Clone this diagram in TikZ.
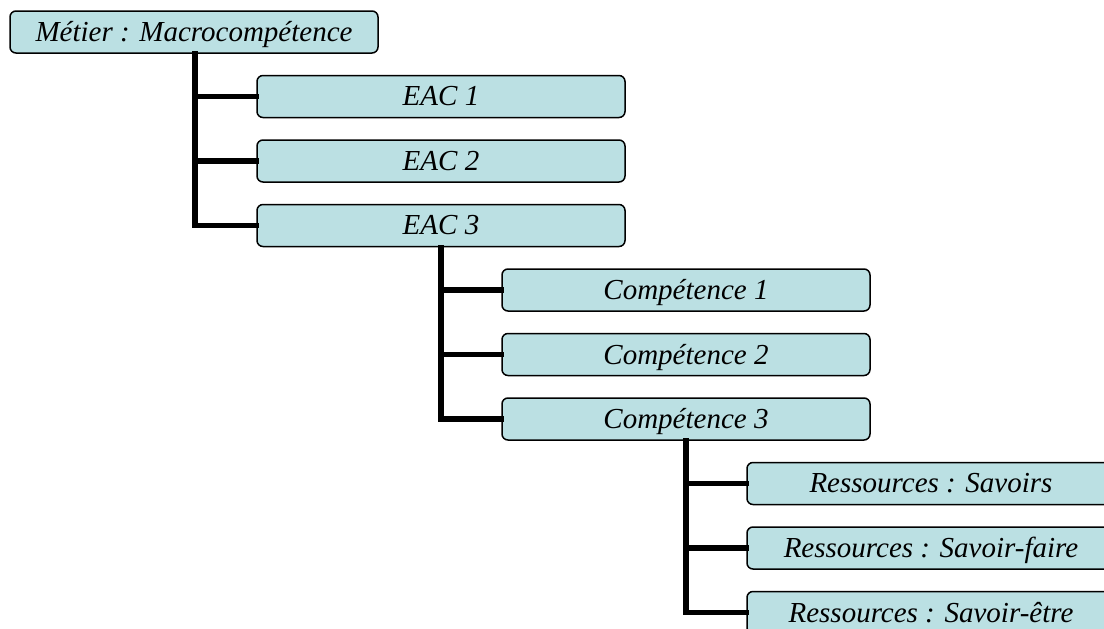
\documentclass[tikz,border=0pt]{standalone}
\usepackage{fontspec}
\setmainfont{Liberation Serif}
\usetikzlibrary{positioning}

\newlength{\du}
\setlength{\du}{1pt}
\definecolor{boxcolor}{rgb}{0.733333, 0.878431, 0.890196}

\tikzset{
  itembox/.style={draw=black, fill=boxcolor, line width=1.5\du,
    rounded corners=6\du, minimum width=368\du, minimum height=42\du,
    inner sep=0pt, text depth=1\du,
    font=\fontsize{29}{33}\selectfont\itshape},
  treeline/.style={line width=5.5\du, line join=miter, line cap=rect}
}

\begin{document}
\begin{tikzpicture}
\clip (0\du,0\du) rectangle (1104\du,-629\du);
\fill[white] (0\du,0\du) rectangle (1104\du,-629\du);
% level 0
\node[itembox] (metier) at (194\du,-32\du) {Métier : Macrocompétence};
% level 1
\node[itembox] (eac1) at (441\du,-96.5\du) {EAC 1};
\node[itembox] (eac2) at (441\du,-161\du) {EAC 2};
\node[itembox] (eac3) at (441\du,-225.5\du) {EAC 3};
% level 2
\node[itembox] (comp1) at (686\du,-290\du) {Compétence 1};
\node[itembox] (comp2) at (686\du,-354.5\du) {Compétence 2};
\node[itembox] (comp3) at (686\du,-419\du) {Compétence 3};
% level 3
\node[itembox] (res1) at (931\du,-483.5\du) {Ressources : Savoirs};
\node[itembox] (res2) at (931\du,-548\du) {Ressources : Savoir-faire};
\node[itembox] (res3) at (931\du,-612.5\du) {Ressources : Savoir-être};
% connectors
\foreach \kid in {eac1,eac2,eac3}
  \draw[treeline] ([xshift=1\du]metier.south) |- (\kid.west);
\foreach \kid in {comp1,comp2,comp3}
  \draw[treeline] (eac3.south) |- (\kid.west);
\foreach \kid in {res1,res2,res3}
  \draw[treeline] (comp3.south) |- (\kid.west);
\end{tikzpicture}
\end{document}
